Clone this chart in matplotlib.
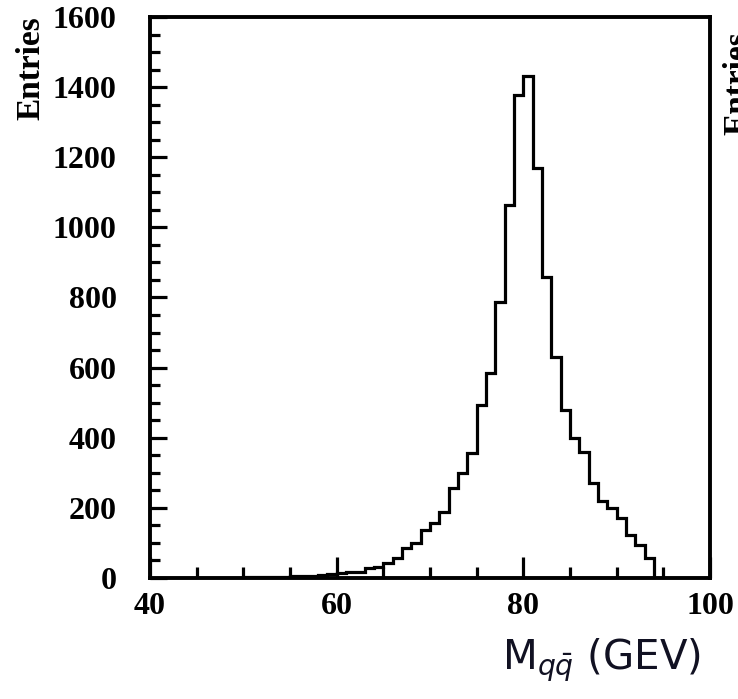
import numpy as np
import matplotlib
matplotlib.use('Agg')
import matplotlib.pyplot as plt
from matplotlib.ticker import MultipleLocator

# Histogram of the di-jet mass, 1 GeV bins from 50 to 95 GeV
bin_edges = np.arange(50, 96, 1)
entries = [2, 2, 3, 3, 4, 5, 6, 7, 8, 10,
           15, 16, 17, 29, 31, 42, 56, 85, 99, 137,
           158, 189, 256, 299, 356, 493, 584, 787, 1064, 1378,
           1432, 1169, 858, 630, 479, 399, 359, 271, 220, 200,
           171, 123, 94, 57, 0]

x_ticks = [40, 60, 80, 100]
y_ticks = [0, 200, 400, 600, 800, 1000, 1200, 1400, 1600]

plt.rcParams['font.family'] = ['Liberation Serif', 'DejaVu Serif']
plt.rcParams['mathtext.fontset'] = 'dejavusans'

fig = plt.figure(figsize=(7.38, 6.99), dpi=100)
ax = fig.add_axes([0.2033, 0.1731, 0.7587, 0.8026])

ax.stairs(entries, bin_edges, color='black', linewidth=2.3)

ax.set_xlim(40, 100)
ax.set_ylim(0, 1600)
ax.set_xticks(x_ticks)
ax.set_yticks(y_ticks)
ax.xaxis.set_minor_locator(MultipleLocator(5))
ax.yaxis.set_minor_locator(MultipleLocator(50))

ax.tick_params(axis='both', which='both', direction='in', width=2.3,
               top=False, right=False, labelsize=23)
ax.tick_params(axis='x', which='major', length=15, pad=10)
ax.tick_params(axis='x', which='minor', length=8)
ax.tick_params(axis='y', which='major', length=12, pad=24)
ax.tick_params(axis='y', which='minor', length=7)
for lab in ax.get_xticklabels() + ax.get_yticklabels():
    lab.set_fontweight('bold')

for sp in ax.spines.values():
    sp.set_linewidth(2.8)

fig.text(0.042, 0.977, 'Entries', rotation=90, ha='center', va='top',
         fontsize=24, fontweight='bold')
# piece of the neighbouring panel's label, cut by the page edge
fig.text(1.0, 0.955, 'Entries', rotation=90, ha='center', va='top',
         fontsize=24, fontweight='bold')

fig.text(0.815, 0.055, r'M$_{q\bar{q}}$ (GEV)', ha='center', va='center',
         fontsize=29, family=['DejaVu Sans'], color='#111122')

fig.savefig('out.png', dpi=100)
